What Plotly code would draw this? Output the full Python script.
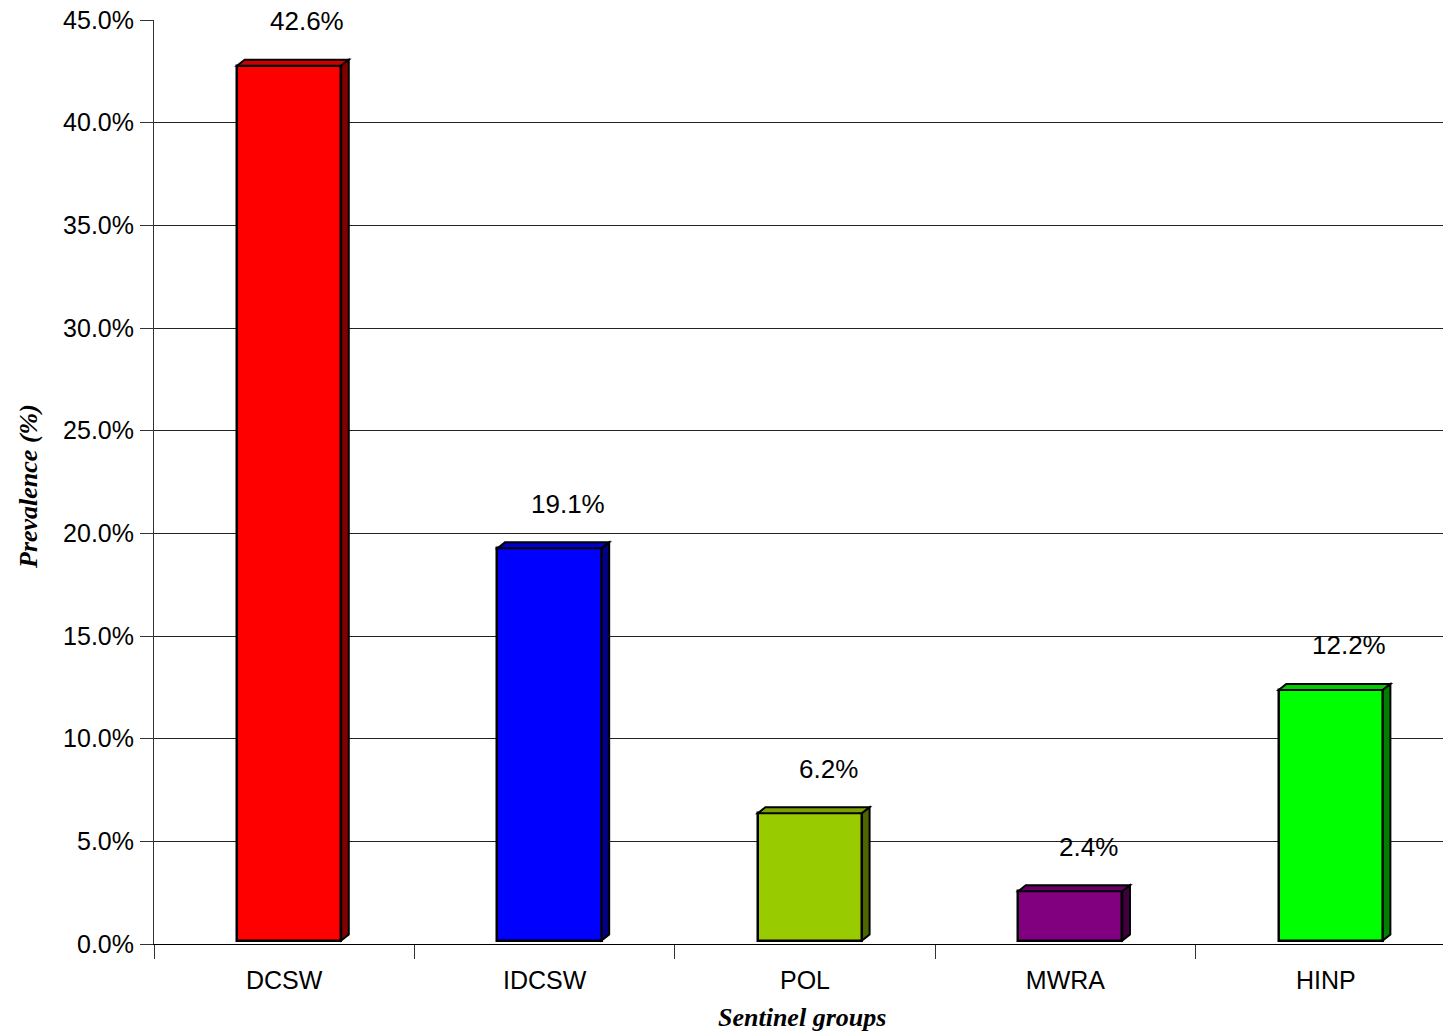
import plotly.graph_objects as go

categories = ["DCSW", "IDCSW", "POL", "MWRA", "HINP"]
prevalence = [42.6, 19.1, 6.2, 2.4, 12.2]
value_labels = ["42.6%", "19.1%", "6.2%", "2.4%", "12.2%"]
front_colors = ["#FF0000", "#0000FF", "#99CC00", "#800080", "#00FF00"]
top_colors = ["#CC0000", "#0000CC", "#7AA300", "#660066", "#00CC00"]
side_colors = ["#800000", "#000080", "#4D6600", "#400040", "#008000"]
y_ticks = [0, 5, 10, 15, 20, 25, 30, 35, 40, 45]

# 3D geometry (axis units)
bar_w = 0.4
bar_off = -0.181
depth_x = 0.029
depth_y = 0.29
lift = 0.17

xs = list(range(len(categories)))

fig = go.Figure()
fig.add_trace(go.Bar(
    x=xs, y=prevalence, base=[lift] * len(xs),
    width=bar_w, offset=bar_off,
    marker=dict(color=front_colors, line=dict(color="black", width=2.5)),
    hoverinfo="skip", showlegend=False,
))

shapes = []
for i, v in enumerate(prevalence):
    x0 = i + bar_off
    x1 = x0 + bar_w
    yb = lift
    yt = lift + v
    top = f"M {x0},{yt} L {x0+depth_x},{yt+depth_y} L {x1+depth_x},{yt+depth_y} L {x1},{yt} Z"
    side = f"M {x1},{yb} L {x1+depth_x},{yb+depth_y} L {x1+depth_x},{yt+depth_y} L {x1},{yt} Z"
    shapes.append(dict(type="path", path=top, xref="x", yref="y",
                       fillcolor=top_colors[i], line=dict(color="black", width=2)))
    shapes.append(dict(type="path", path=side, xref="x", yref="y",
                       fillcolor=side_colors[i], line=dict(color="black", width=2)))

annotations = []
for i, (v, t) in enumerate(zip(prevalence, value_labels)):
    annotations.append(dict(x=i, y=v, text=t, showarrow=False, xref="x", yref="y",
                            xanchor="center", yanchor="middle", xshift=23, yshift=48,
                            font=dict(family="Liberation Sans, Arial", size=26, color="black")))

W, H = 1443, 1035
ml, mr, mt, mb = 154, 0, 20, 91
pw = W - ml - mr
ph = H - mt - mb
annotations.append(dict(text="<b><i>Sentinel groups</i></b>", xref="paper", yref="paper",
                        x=(802 - ml) / pw, y=(944 - 1018) / ph, showarrow=False,
                        xanchor="center", yanchor="middle",
                        font=dict(family="Liberation Serif, Times New Roman", size=26, color="black")))
annotations.append(dict(text="<b><i>Prevalence (%)</i></b>", xref="paper", yref="paper",
                        x=(28 - ml) / pw, y=(944 - 487) / ph, showarrow=False, textangle=-90,
                        xanchor="center", yanchor="middle",
                        font=dict(family="Liberation Serif, Times New Roman", size=26, color="black")))

unit_px = 260.4
x_end = -0.5 + pw / unit_px

fig.update_layout(
    width=W, height=H,
    margin=dict(l=ml, r=mr, t=mt, b=mb, pad=0),
    plot_bgcolor="white", paper_bgcolor="white",
    shapes=shapes, annotations=annotations,
    bargap=0,
    xaxis=dict(
        range=[-0.5, x_end], tickvals=xs, ticktext=categories, ticks="",
        showgrid=False, zeroline=False,
        showline=True, linecolor="black", linewidth=1,
        tickfont=dict(family="Liberation Sans, Arial", size=25, color="black"),
        ticklabelstandoff=14,
        minor=dict(tickvals=[k - 0.5 for k in range(len(categories))], ticks="outside",
                   ticklen=14, tickcolor="#333333", tickwidth=1, showgrid=False),
    ),
    yaxis=dict(
        range=[0, 45], tickvals=y_ticks, ticktext=[f"{t:.1f}%" for t in y_ticks],
        ticks="outside", ticklen=13, tickcolor="#333333", tickwidth=1,
        showgrid=False, zeroline=False,
        showline=True, linecolor="#333333", linewidth=1,
        tickfont=dict(family="Liberation Sans, Arial", size=25, color="black"),
        ticklabelstandoff=1,
        minor=dict(tickvals=y_ticks[1:-1], ticks="", showgrid=True,
                   gridcolor="#222222", gridwidth=1),
    ),
)

fig.write_html("out.html")
